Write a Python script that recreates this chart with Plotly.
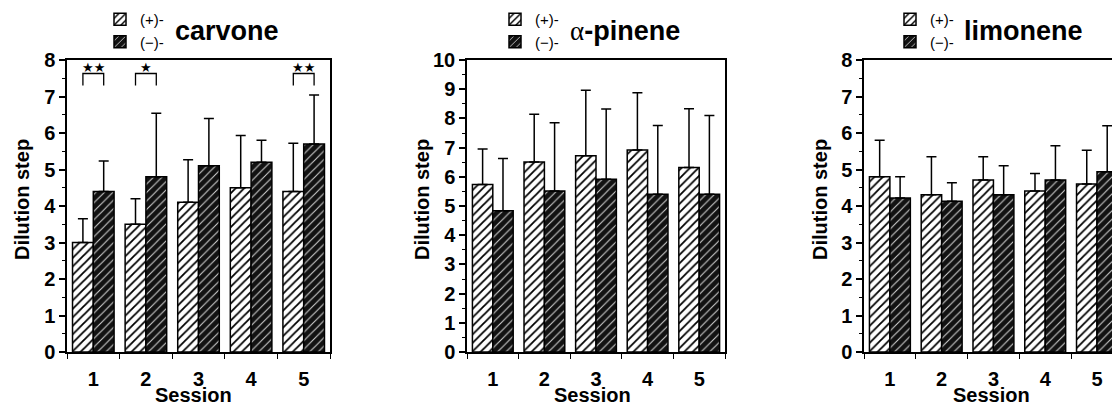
import plotly.graph_objects as go

# ---------------- data ----------------
sessions = [1, 2, 3, 4, 5]
session_labels = ["1", "2", "3", "4", "5"]
series_names = ["(+)-", "(−)-"]

carvone_plus = [3.0, 3.5, 4.1, 4.5, 4.4]
carvone_plus_sd = [0.65, 0.7, 1.17, 1.43, 1.32]
carvone_minus = [4.4, 4.8, 5.1, 5.2, 5.7]
carvone_minus_sd = [0.83, 1.74, 1.3, 0.6, 1.34]

pinene_plus = [5.74, 6.51, 6.72, 6.92, 6.32]
pinene_plus_sd = [1.21, 1.63, 2.24, 1.96, 2.01]
pinene_minus = [4.84, 5.51, 5.92, 5.40, 5.40]
pinene_minus_sd = [1.79, 2.34, 2.40, 2.36, 2.70]

limonene_plus = [4.80, 4.31, 4.71, 4.41, 4.60]
limonene_plus_sd = [1.0, 1.04, 0.64, 0.48, 0.93]
limonene_minus = [4.22, 4.13, 4.31, 4.71, 4.94]
limonene_minus_sd = [0.58, 0.51, 0.79, 0.94, 1.26]

carvone_sig_sessions = [1, 2, 5]
carvone_sig_labels = ["★★", "★", "★★"]

# ---------------- styling ----------------
W, H = 1112, 406
FONT = "Liberation Sans, Arial, Helvetica, sans-serif"


def px_x(p):
    return p / W


def px_y(p):
    return 1 - p / H


panels = [
    dict(key="", title="carvone", plus=carvone_plus, plus_sd=carvone_plus_sd,
         minus=carvone_minus, minus_sd=carvone_minus_sd, ymax=8,
         xdom=(67, 330), xrange=[0.5, 5.5], ymirror=True, legend="legend",
         leg_x=100, title_x=173, ytitle_x=22, sess_x=193),
    dict(key="2", title="<span style='font-family:Liberation Serif;font-weight:normal'>α</span>-pinene",
         plus=pinene_plus, plus_sd=pinene_plus_sd,
         minus=pinene_minus, minus_sd=pinene_minus_sd, ymax=10,
         xdom=(467, 725), xrange=[0.5, 5.5], ymirror=True, legend="legend2",
         leg_x=495, title_x=568, ytitle_x=422, sess_x=592),
    dict(key="3", title="limonene", plus=limonene_plus, plus_sd=limonene_plus_sd,
         minus=limonene_minus, minus_sd=limonene_minus_sd, ymax=8,
         xdom=(864, 1112), xrange=[0.5, 5.29], ymirror=False, legend="legend3",
         leg_x=890, title_x=962, ytitle_x=820, sess_x=991),
]

fig = go.Figure()
layout_extra = {}
annotations = []
shapes = []

minor_x = [s - 0.5 for s in sessions] + [sessions[-1] + 0.5]

for p in panels:
    k = p["key"]
    xa, ya = "x" + k, "y" + k
    fig.add_trace(go.Bar(
        x=sessions, y=p["plus"], name=series_names[0], xaxis=xa, yaxis=ya,
        legend=p["legend"],
        marker=dict(color="white", line=dict(color="black", width=1.5),
                    pattern=dict(shape="/", fgcolor="black", bgcolor="white",
                                 size=6, solidity=0.3)),
        error_y=dict(type="data", array=p["plus_sd"], arrayminus=[0] * 5,
                     symmetric=False, color="black", thickness=1.5, width=5),
    ))
    fig.add_trace(go.Bar(
        x=sessions, y=p["minus"], name=series_names[1], xaxis=xa, yaxis=ya,
        legend=p["legend"],
        marker=dict(color="#121212", line=dict(color="black", width=1.5),
                    pattern=dict(shape="/", fgcolor="#cfcfcf", bgcolor="#121212",
                                 size=6, solidity=0.18)),
        error_y=dict(type="data", array=p["minus_sd"], arrayminus=[0] * 5,
                     symmetric=False, color="black", thickness=1.5, width=5),
    ))

    layout_extra["xaxis" + k] = dict(
        domain=[px_x(p["xdom"][0]), px_x(p["xdom"][1])], range=p["xrange"],
        anchor=ya, showline=True, linecolor="black", linewidth=1.5, mirror=True,
        automargin=False,
        tickmode="array", tickvals=sessions, ticktext=session_labels,
        ticks="outside", ticklen=8, tickcolor="rgba(0,0,0,0)",
        tickfont=dict(size=20, family=FONT, color="black", weight="bold"),
        minor=dict(tickmode="array", tickvals=minor_x, ticks="outside",
                   ticklen=5, tickcolor="black", tickwidth=1.2, showgrid=False),
        showgrid=False, zeroline=False, fixedrange=True,
    )
    layout_extra["yaxis" + k] = dict(
        domain=[px_y(352), px_y(60)], range=[0, p["ymax"]], anchor=xa,
        showline=True, linecolor="black", linewidth=1.5, mirror=p["ymirror"],
        automargin=False,
        tickmode="linear", tick0=0, dtick=1, ticks="outside", ticklen=6,
        tickcolor="black", tickwidth=1.5,
        tickfont=dict(size=20, family=FONT, color="black", weight="bold"),
        minor=dict(tickmode="linear", tick0=0, dtick=0.5, ticks="outside",
                   ticklen=3, tickcolor="black", tickwidth=1.2, showgrid=False),
        showgrid=False, zeroline=False, fixedrange=True,
    )
    layout_extra[p["legend"]] = dict(
        x=px_x(p["leg_x"]), y=px_y(3), xanchor="left", yanchor="top",
        bgcolor="rgba(0,0,0,0)", borderwidth=0, tracegroupgap=0,
        font=dict(size=15, family=FONT, color="black"), traceorder="normal",
        itemwidth=30,
    )
    annotations.append(dict(
        text=p["title"], x=px_x(p["title_x"]), y=px_y(31), xref="paper", yref="paper",
        xanchor="left", yanchor="middle", showarrow=False,
        font=dict(size=27, family=FONT, color="black", weight="bold"),
    ))
    annotations.append(dict(
        text="Dilution step", x=px_x(p["ytitle_x"]), y=px_y(200), xref="paper",
        yref="paper", xanchor="center", yanchor="middle", textangle=-90,
        showarrow=False, font=dict(size=20, family=FONT, color="black", weight="bold"),
    ))
    annotations.append(dict(
        text="Session", x=px_x(p["sess_x"]), y=px_y(395), xref="paper",
        yref="paper", xanchor="center", yanchor="middle",
        showarrow=False, font=dict(size=20, family=FONT, color="black", weight="bold"),
    ))

# significance brackets on carvone panel
half = 0.1975
for s, lab in zip(carvone_sig_sessions, carvone_sig_labels):
    shapes.append(dict(
        type="path", xref="x", yref="y",
        path=f"M {s - half},7.3 L {s - half},7.63 L {s + half},7.63 L {s + half},7.3",
        line=dict(color="black", width=1.3),
    ))
    annotations.append(dict(
        text=lab, x=s, y=7.63, xref="x", yref="y", xanchor="center",
        yanchor="bottom", showarrow=False, yshift=-3,
        font=dict(size=13, family="DejaVu Sans", color="black"),
    ))

fig.update_layout(
    template="none",
    width=W, height=H, margin=dict(l=0, r=0, t=0, b=0, pad=0, autoexpand=False),
    paper_bgcolor="white", plot_bgcolor="white",
    barmode="group", bargap=0.21, bargroupgap=0,
    showlegend=True, annotations=annotations, shapes=shapes,
    font=dict(family=FONT, color="black"),
    **layout_extra,
)

fig.write_html("out.html")
